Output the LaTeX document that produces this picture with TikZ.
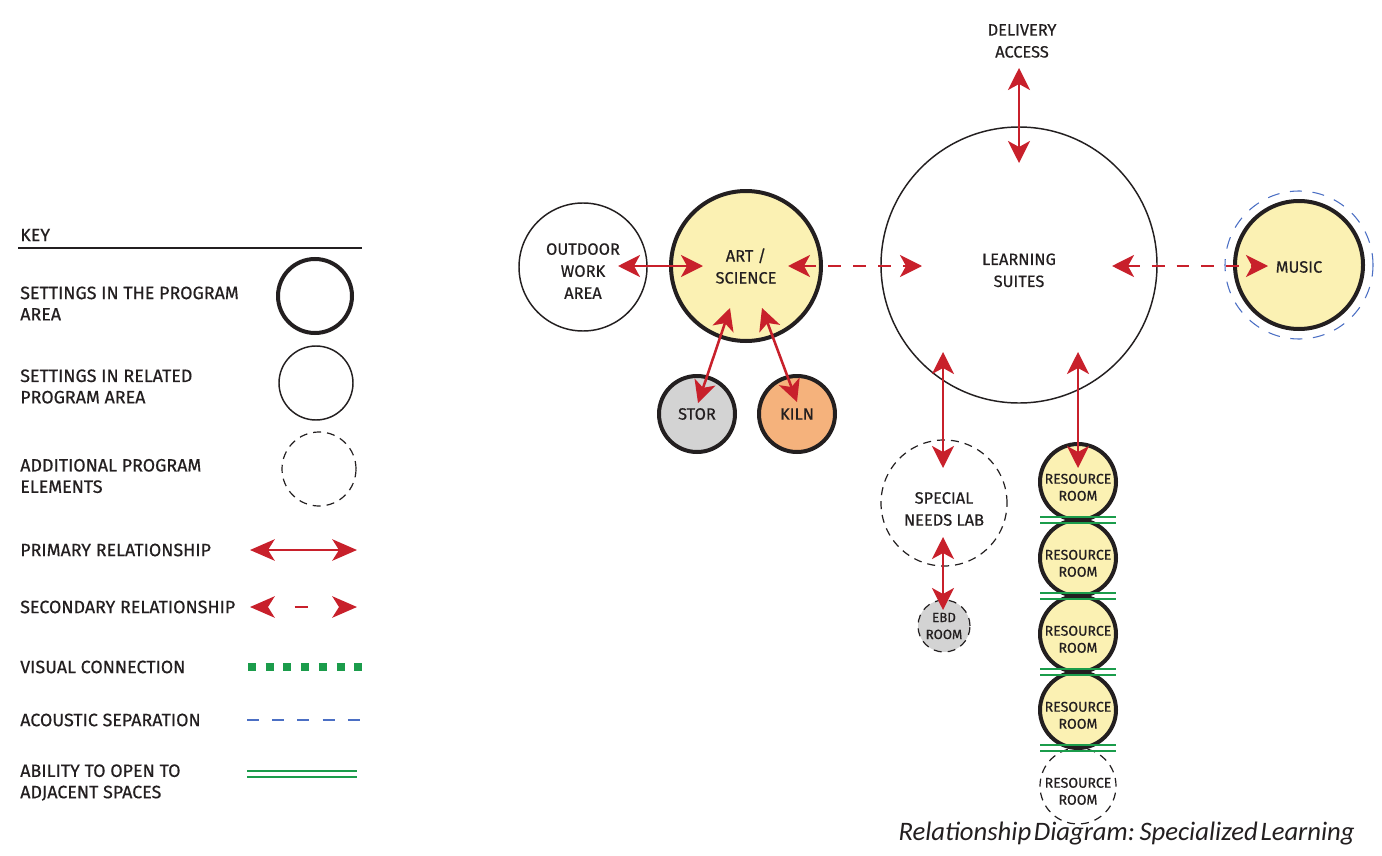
\documentclass[tikz,border=0pt]{standalone}
\usepackage{fontspec}
\setmainfont{Fira Sans}[FakeBold=0.5]
\newfontfamily\capfont{Carlito}[WordSpace=0.45]
\usetikzlibrary{arrows.meta}
\definecolor{artred}{HTML}{C8202B}
\definecolor{paleyellow}{HTML}{FBF1B3}
\definecolor{stogray}{HTML}{D3D3D3}
\definecolor{kilnorange}{HTML}{F5B27C}
\definecolor{acblue}{HTML}{4B6FC4}
\definecolor{opengreen}{HTML}{1B9C4B}
\definecolor{ink}{HTML}{231F20}
\tikzset{
 lbl/.style={text=ink, align=center, inner sep=0pt, font=\fontsize{12.3}{16.5}\selectfont},
 room/.style={circle, draw=ink, inner sep=0pt, outer sep=0pt, text=ink, align=center, font=\fontsize{12.3}{16.5}\selectfont},
 core/.style={room, line width=3pt, fill=paleyellow},
 related/.style={room, line width=1.1pt},
 extra/.style={room, line width=0.9pt, dash pattern=on 6pt off 4.5pt},
 keytext/.style={anchor=west, inner sep=0pt, font=\fontsize{13.4}{16}\selectfont, text=ink, align=left},
 rrtext/.style={font=\fontsize{10.6}{12.75}\selectfont, text=ink, align=center, inner sep=0pt, yshift=-4pt},
 prim/.style={draw=artred, line width=1.9pt, {Stealth[length=16.5pt,width=16.5pt,inset=4.5pt]}-{Stealth[length=16.5pt,width=16.5pt,inset=4.5pt]}},
 keyarrow/.style={draw=artred, line width=2.1pt, {Stealth[length=18.5pt,width=16pt,inset=5pt]}-{Stealth[length=18.5pt,width=16pt,inset=5pt]}},
 sec/.style={prim, dash pattern=on 9.5pt off 9pt},
 acoustic/.style={draw=acblue, line width=0.8pt, dash pattern=on 9pt off 8pt},
 opening/.style={draw=opengreen, line width=1.1pt},
 visual/.style={draw=opengreen, line width=6pt, dash pattern=on 6pt off 7.3pt},
}
\begin{document}
\begin{tikzpicture}[x=0.75pt,y=-0.75pt]
\useasboundingbox[fill=white] (0,0) rectangle (1382,856);
% ---------- key ----------
\node[keytext] (key) at (20,235) {KEY};
\draw[ink, line width=1.5pt] (18,248) -- (362,248);
\node[keytext] (k1) at (20,303.5) {SETTINGS IN THE PROGRAM\\AREA};
\node[room, line width=3pt, minimum size=55.5pt] (kc1) at (315,296) {};
\node[keytext] (k2) at (20,386.5) {SETTINGS IN RELATED\\PROGRAM AREA};
\node[related, minimum size=55.5pt] (kc2) at (316,383) {};
\node[keytext] (k3) at (20,476) {ADDITIONAL PROGRAM\\ELEMENTS};
\node[extra, minimum size=55.5pt] (kc3) at (319,469) {};
\node[keytext] (k4) at (20,550) {PRIMARY RELATIONSHIP};
\coordinate (p1) at (250,550); \coordinate (p2) at (357,550);
\draw[keyarrow] (p1) -- (p2);
\node[keytext] (k5) at (20,607) {SECONDARY RELATIONSHIP};
\coordinate (s1) at (250,607); \coordinate (s2) at (357,607);
\draw[keyarrow, dash pattern=on 9.75pt off 24pt, dash phase=13pt] (s1) -- (s2);
\node[keytext] (k6) at (20,667) {VISUAL CONNECTION};
\coordinate (v1) at (248,667); \coordinate (v2) at (362,667);
\draw[visual] (v1) -- (v2);
\node[keytext] (k7) at (20,720) {ACOUSTIC SEPARATION};
\coordinate (a1) at (247,720); \coordinate (a2) at (360,720);
\draw[acoustic, dash pattern=on 9pt off 9.9pt] (a1) -- (a2);
\node[keytext] (k8) at (20,782.5) {ABILITY TO OPEN TO\\ADJACENT SPACES};
\coordinate (o1) at (247,771); \coordinate (o2) at (357,771);
\coordinate (o3) at (247,777); \coordinate (o4) at (357,777);
\draw[opening] (o1) -- (o2);
\draw[opening] (o3) -- (o4);
% ---------- diagram ----------
\node[related, minimum size=96pt, label={[lbl, yshift=-3pt]center:{OUTDOOR\\WORK\\AREA}}] (outdoor) at (583,267) {};
\node[core, minimum size=112.5pt] (art) at (746,266) {ART /\\SCIENCE};
\node[core, fill=stogray, minimum size=57pt] (stor) at (697,414) {STOR};
\node[core, fill=kilnorange, minimum size=57pt] (kiln) at (797,414) {KILN};
\node[related, minimum size=207pt, label={[lbl, yshift=-4pt]center:{LEARNING\\SUITES}}] (ls) at (1019,265) {};
\node[circle, acoustic, inner sep=0pt, minimum size=111pt] (musicbuf) at (1299,265) {};
\node[core, minimum size=96pt, label={[lbl, yshift=-1.5pt]center:MUSIC}] (music) at (1299,265) {};
\node[lbl] (deliv) at (1022,41) {DELIVERY\\ACCESS};
\node[extra, minimum size=94.5pt, label={[lbl, yshift=-4.5pt]center:{SPECIAL\\NEEDS LAB}}] (snl) at (944,503) {};
\node[extra, fill=stogray, minimum size=39pt, font=\fontsize{10}{12.75}\selectfont] (ebd) at (944,626) {EBD\\ROOM};
\foreach \i/\yy in {1/482,2/558,3/634,4/710}
  \node[core, minimum size=57pt, label={[rrtext]center:{RESOURCE\\ROOM}}] (rr\i) at (1078,\yy) {};
\node[extra, minimum size=57pt, label={[rrtext]center:{RESOURCE\\ROOM}}] (rr5) at (1078,786) {};
% connectors
\draw[prim] ([shift={(35,-1)}]outdoor.center) -- ([shift={(-43,0)}]art.center);
\draw[prim, dash pattern=on 9.75pt off 9pt] ([shift={(42,0)}]art.center) -- ([shift={(-97,1)}]ls.center);
\draw[sec] ([shift={(93,1)}]ls.center) -- ([shift={(-31,1)}]music.center);
\draw[prim] ([shift={(-3,27)}]deliv.center) -- ([shift={(0,-102)}]ls.center);
\draw[prim] ([shift={(-16,42)}]art.center) -- ([shift={(1,-11)}]stor.center);
\draw[prim] ([shift={(16,42)}]art.center) -- ([shift={(0,-12)}]kiln.center);
\draw[prim] ([shift={(-76,87)}]ls.center) -- ([shift={(-1,-35)}]snl.center);
\draw[prim] ([shift={(59,87)}]ls.center) -- ([shift={(0,-14)}]rr1.center);
\draw[prim] ([shift={(-1,34)}]snl.center) -- ([shift={(-1,-16)}]ebd.center);
% openings between resource rooms
\foreach \n in {1,2,3,4} {
  \draw[opening] ([shift={(-38,-3)}]rr\n.south) -- ([shift={(38,-3)}]rr\n.south);
  \draw[opening] ([shift={(-38,3)}]rr\n.south) -- ([shift={(38,3)}]rr\n.south);
}
% caption
\node[anchor=base east, inner sep=0pt, text=ink, font=\capfont\itshape\fontsize{20}{22}\selectfont] (caption) at (1355,840) {Relationship Diagram: Specialized Learning};
\end{tikzpicture}
\end{document}
